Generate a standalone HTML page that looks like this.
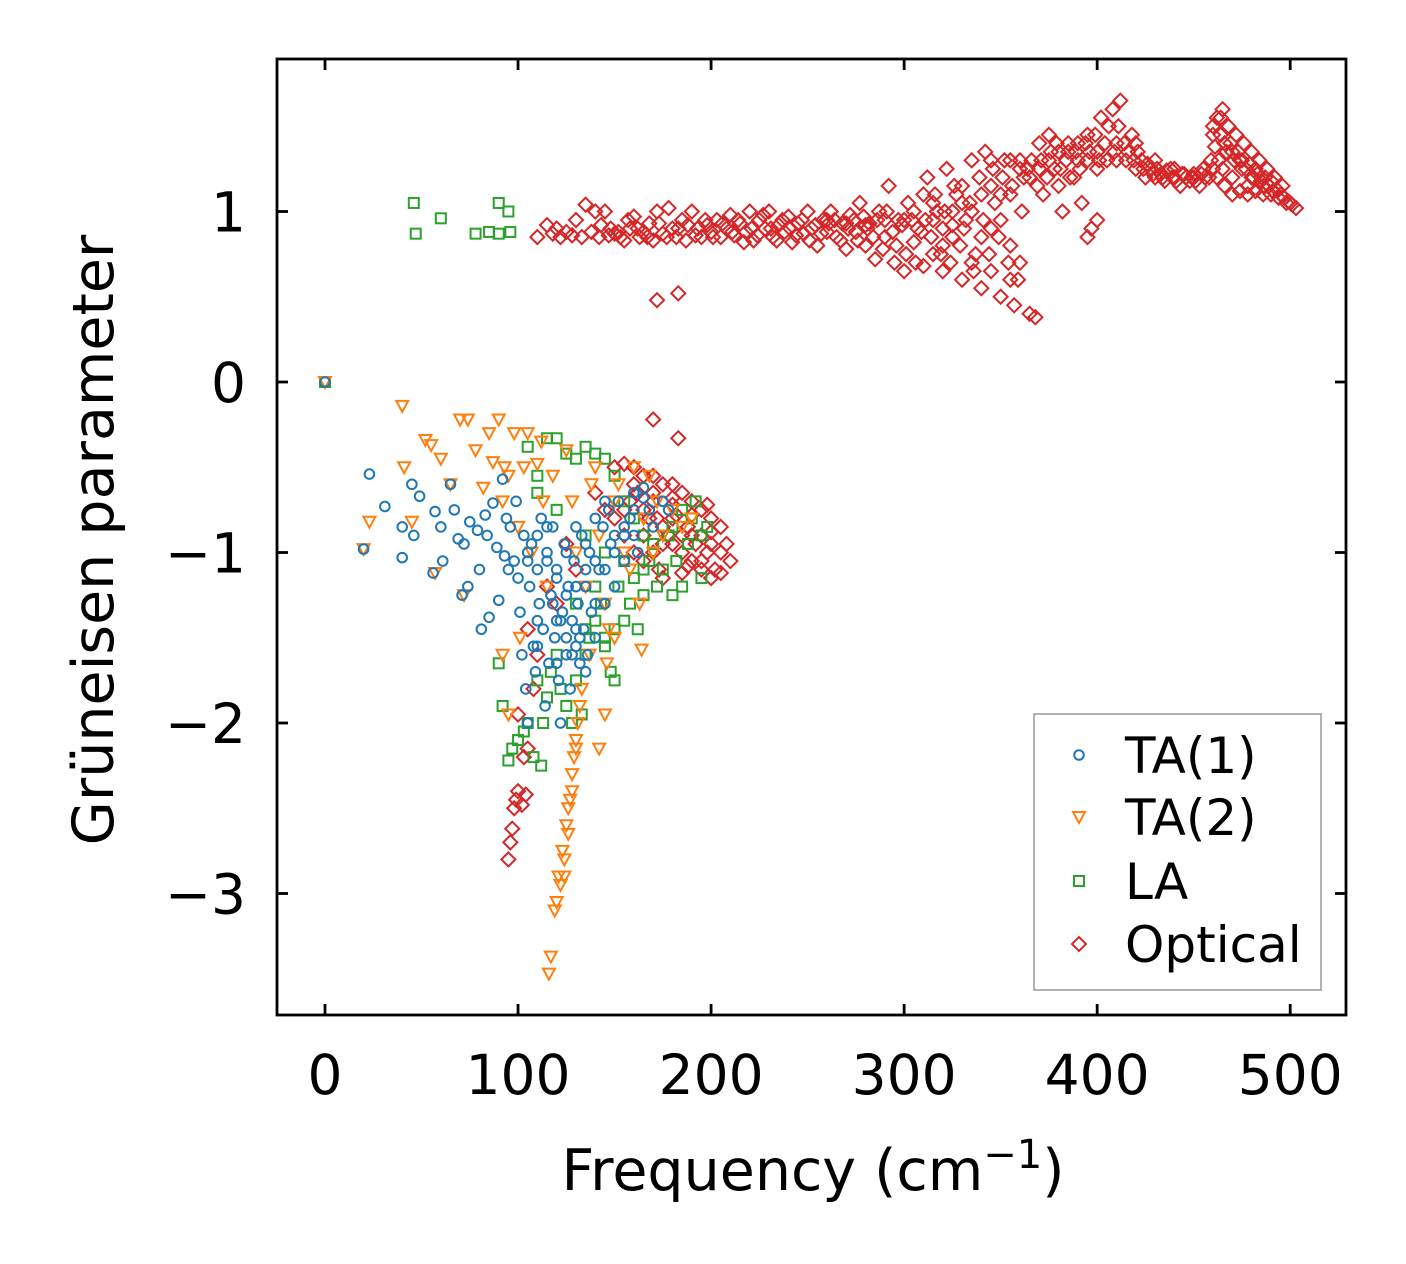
<!DOCTYPE html>
<html><head><meta charset="utf-8">
<style>
html,body{margin:0;padding:0;background:#fff;}
svg{display:block;font-family:"DejaVu Sans","Liberation Sans",sans-serif;}
</style></head>
<body>
<svg id="chart" width="1406" height="1264" viewBox="0 0 1406 1264" xmlns="http://www.w3.org/2000/svg">
<rect x="0" y="0" width="1406" height="1264" fill="#fff"/>
<g id="marks"></g>
<g id="axes"></g>
<text x="813" y="1190" font-size="57" text-anchor="middle">Frequency (cm<tspan dy="-22" font-size="40">−1</tspan><tspan dy="22">)</tspan></text>
<text transform="translate(113,540) rotate(-90)" font-size="57" text-anchor="middle">Grüneisen parameter</text>
<g id="legend">
<rect x="1034" y="714" width="287" height="276" fill="#fff" stroke="#999" stroke-width="1.5"/>
</g>
</svg>
<script>
const xTicks = [0, 100, 200, 300, 400, 500];
const yTicks = [1, 0, -1, -2, -3];
const yTickLabels = ["1", "0", "\u22121", "\u22122", "\u22123"];

const ta1Freq = [0,20,23,31,40,40,45,46,49,56,57,60,61,65,67,69,71,72,74,75,79,80,81,83,84,85,87,89,90,92,93,94,95,96,98,99,100,101,102,103,104,105,106,107,108,109,110,111,112,113,114,115,116,117,118,119,120,121,122,123,124,125,126,127,128,129,130,131,132,133,134,135,136,137,138,140,142,144,145,147,148,150,152,155,158,160,162,165,168,170,175,178,105,115,125,135,128,132,118,122,105,110,115,120,125,130,135,140,145,150,155,160,110,120,130,140,125,135,120,110,130,140,150,145,160,165,155];
const ta1Gamma = [0,-0.98,-0.54,-0.73,-1.03,-0.85,-0.6,-0.9,-0.67,-1.12,-0.76,-0.85,-1.05,-0.6,-0.75,-0.92,-1.25,-0.95,-1.2,-0.82,-0.87,-1.1,-1.45,-0.78,-0.9,-1.38,-0.71,-0.97,-1.28,-0.57,-1.02,-0.8,-1.1,-0.85,-1.05,-0.7,-1.15,-1.35,-1.6,-0.9,-1.8,-2.0,-1.2,-0.95,-1.55,-1.7,-1.1,-1.3,-0.8,-1.45,-1.9,-1.0,-1.65,-1.25,-0.85,-1.5,-1.15,-1.75,-2.0,-1.35,-0.95,-1.6,-1.2,-1.8,-1.4,-1.05,-1.55,-1.3,-1.65,-0.9,-1.45,-1.2,-1.6,-1.0,-1.35,-1.5,-1.1,-0.85,-1.3,-0.75,-0.95,-1.2,-0.7,-0.9,-0.8,-0.65,-1.0,-0.62,-0.75,-0.85,-0.7,-0.75,-1.05,-0.85,-1.25,-1.1,-1.6,-1.5,-1.3,-1.4,-1.0,-0.9,-1.05,-1.1,-1.0,-0.85,-0.95,-1.05,-1.1,-0.9,-0.85,-0.9,-1.4,-1.4,-1.45,-1.3,-1.5,-1.7,-1.65,-1.55,-1.2,-0.8,-1.0,-0.7,-0.75,-0.68,-1.05];

const ta2Freq = [0,20,23,40,41,45,52,55,57,60,65,70,72,74,78,82,85,87,90,92,93,95,98,100,101,103,105,107,110,112,113,115,116,117,118,119,120,121,122,123,124,125,126,127,128,129,130,131,132,133,125,128,130,135,137,138,140,142,145,146,147,150,152,155,158,160,163,164,165,168,170,172,175,180,185,190,95,92,130,142,145,128,126,124,150];
const ta2Gamma = [0,-0.98,-0.82,-0.14,-0.5,-0.82,-0.34,-0.37,-1.12,-0.45,-0.6,-0.22,-1.25,-0.22,-0.4,-0.62,-0.3,-0.47,-0.22,-0.7,-0.5,-0.55,-0.3,-0.85,-1.5,-0.5,-0.3,-1.0,-0.48,-0.35,-0.7,-1.2,-3.47,-3.37,-0.55,-3.1,-3.05,-2.9,-2.95,-2.75,-2.8,-2.6,-2.5,-2.45,-2.3,-2.2,-2.1,-2.0,-1.9,-1.8,-0.4,-0.7,-1.0,-1.2,-1.6,-0.6,-0.5,-0.9,-1.3,-1.65,-1.45,-0.7,-0.6,-1.0,-1.1,-0.5,-1.3,-1.57,-0.8,-0.55,-1.0,-0.7,-0.9,-0.75,-0.85,-0.8,-1.95,-1.6,-2.15,-2.15,-1.95,-2.4,-2.65,-2.9,-1.5];

const laFreq = [0,46,47,60,78,85,90,90,95,96,90,92,95,97,100,103,105,108,110,112,113,115,117,120,122,125,128,130,133,135,137,140,143,145,148,150,152,155,158,160,162,165,168,170,172,175,178,180,182,185,188,190,192,195,198,185,180,195,105,110,115,120,125,130,135,140,145,150,155,160,165,110,120,135,145,155,165,140,130,145,150,135];
const laGamma = [0,1.05,0.87,0.96,0.87,0.88,1.05,0.87,1.0,0.88,-1.65,-1.9,-2.22,-2.15,-2.1,-2.05,-2.0,-2.2,-1.75,-2.25,-2.0,-1.85,-1.7,-1.6,-1.8,-1.9,-2.0,-1.75,-1.95,-1.6,-1.5,-1.4,-1.3,-1.55,-1.7,-1.45,-1.2,-1.4,-1.3,-1.15,-1.45,-1.25,-1.05,-0.95,-1.2,-1.1,-0.9,-0.85,-1.05,-0.75,-0.95,-0.8,-0.7,-0.9,-0.85,-1.2,-1.25,-1.15,-0.38,-0.55,-0.33,-0.33,-0.42,-0.45,-0.38,-0.42,-0.45,-0.55,-0.7,-0.8,-0.9,-0.65,-0.75,-0.9,-1.0,-1.05,-1.1,-1.2,-1.3,-1.5,-1.75,-1.45];

const optFreq = [110,115,118,122,133,135,138,140,142,145,148,150,153,158,160,163,168,170,172,175,178,180,182,185,187,190,193,195,198,200,203,205,208,210,212,215,218,220,222,225,228,230,232,235,238,240,242,245,248,250,252,255,258,260,262,265,268,270,272,275,277,280,282,285,287,290,292,295,297,300,302,305,307,310,312,315,317,320,322,325,327,330,332,335,337,340,342,345,347,350,352,355,357,360,362,365,368,370,372,375,378,380,382,385,388,390,392,395,397,400,402,405,408,410,412,415,418,420,423,425,428,430,433,435,438,440,443,445,448,450,453,455,458,460,462,463,465,466,468,470,472,474,476,478,480,482,484,486,488,490,492,494,496,498,500,503,305,315,325,335,345,355,365,375,385,395,310,320,330,340,350,360,370,380,390,400,410,420,430,440,450,460,470,480,490,475,485,465,395,400,355,345,335,170,183,172,183,95,96,97,98,99,100,102,104,105,103,150,155,160,165,170,175,180,185,190,195,200,205,208,210,205,200,195,190,185,180,175,170,165,160,155,150,158,165,172,180,188,195,200,170,180,190,185,175,198,140,145,125,115,105,108,100,110,120,130,
120,125,128,130,143,147,152,155,157,162,165,167,173,177,183,188,192,197,201,206,211,214,217,221,224,227,231,234,237,241,244,247,251,254,257,261,264,267,271,274,276,279,281,284,286,289,291,294,296,299,301,304,306,309,311,314,316,319,321,324,326,329,331,334,336,339,341,344,346,349,351,354,356,359,361,364,366,369,371,374,376,379,381,384,386,389,391,394,396,399,401,404,406,409,411,414,416,419,421,424,426,429,431,434,436,439,441,444,446,449,451,454,456,459,461,464,467,469,471,473,475,477,479,481,483,485,487,489,491,493,495,497,499,501,462,466,470,474,478,482,486,460,464,300,290,280,270,260,325,315,345,350,340,330,320,355,360,
160,170,180,190,200,205,195,185,175,165,155,162,178,192,202,198,188,182,168,173];
const optGamma = [0.85,0.92,0.87,0.85,0.85,1.04,0.88,1.0,0.85,1.0,0.9,0.87,0.85,0.9,0.97,0.85,0.93,0.83,1.0,0.87,1.02,0.9,0.85,0.95,0.83,1.0,0.9,0.85,0.92,0.88,0.95,0.85,0.9,0.98,0.86,0.93,0.88,1.0,0.83,0.95,0.9,1.0,0.85,0.92,0.88,0.97,0.82,0.93,0.87,1.0,0.9,0.8,0.95,0.88,1.0,0.85,0.93,0.78,0.98,0.88,1.05,0.8,0.93,0.72,1.0,0.85,1.15,0.7,0.95,0.65,1.05,0.82,0.9,0.68,1.2,0.75,1.0,0.65,1.25,0.85,1.1,0.6,0.95,1.3,0.75,0.55,1.35,0.9,1.05,0.5,1.3,0.8,0.45,0.7,1.2,0.4,0.38,1.4,1.1,1.45,1.25,1.35,1.0,1.4,1.2,1.3,1.05,1.45,0.9,1.35,1.55,1.3,1.6,1.4,1.65,1.3,1.45,1.25,1.3,1.2,1.25,1.2,1.22,1.18,1.25,1.2,1.15,1.22,1.18,1.2,1.15,1.25,1.2,1.45,1.55,1.3,1.6,1.4,1.5,1.2,1.45,1.3,1.4,1.15,1.35,1.25,1.3,1.15,1.25,1.1,1.2,1.08,1.15,1.05,1.05,1.02,1.0,0.95,0.92,1.0,1.15,1.1,1.2,1.3,1.35,1.3,1.1,0.8,1.15,0.85,0.95,1.3,1.25,1.15,1.4,1.25,1.3,1.4,1.3,1.25,1.22,1.25,1.35,1.2,1.18,1.25,1.2,1.25,0.85,0.95,0.6,0.65,0.7,-0.22,-0.33,0.48,0.52,-2.8,-2.7,-2.62,-2.5,-2.45,-2.4,-2.48,-2.42,-2.15,-2.2,-0.5,-0.48,-0.5,-0.55,-0.55,-0.6,-0.6,-0.65,-0.7,-0.75,-0.8,-0.85,-0.95,-1.05,-1.12,-1.15,-1.1,-1.05,-1.0,-0.95,-0.95,-1.0,-1.05,-1.0,-0.9,-0.8,-0.7,-0.75,-0.8,-0.8,-0.85,-0.9,-0.95,-0.65,-0.72,-0.9,-1.12,-1.15,-1.0,-0.65,-0.75,-0.95,-1.2,-1.45,-1.8,-1.95,-1.6,-1.3,-1.1,
0.9,0.88,0.86,0.95,0.92,0.86,0.88,0.83,0.95,0.9,0.88,0.85,0.93,0.85,0.9,0.92,0.86,0.95,0.85,0.93,0.88,0.95,0.82,0.9,0.86,0.98,0.9,0.83,0.95,0.9,0.86,0.95,0.83,0.92,0.87,0.93,0.95,0.83,0.9,0.95,0.83,0.97,0.9,0.85,0.95,0.78,1.0,0.88,0.8,0.92,0.75,0.95,0.7,0.88,0.95,0.85,1.1,0.75,1.0,0.7,1.15,0.8,0.9,1.05,0.65,1.2,0.95,0.75,1.25,0.85,1.2,0.7,1.15,0.6,1.0,1.25,1.3,1.15,1.3,1.2,1.35,1.4,1.25,1.3,1.2,1.35,1.25,1.4,1.35,1.45,1.3,1.4,1.5,1.35,1.5,1.4,1.35,1.3,1.35,1.25,1.28,1.22,1.25,1.2,1.24,1.2,1.18,1.22,1.2,1.2,1.18,1.22,1.2,1.3,1.38,1.45,1.35,1.4,1.3,1.35,1.3,1.25,1.28,1.2,1.22,1.18,1.2,1.15,1.12,1.13,1.1,1.08,1.06,1.04,1.2,1.15,1.1,1.12,1.1,1.12,1.1,1.5,1.55,0.95,0.95,0.92,0.93,0.95,1.0,1.05,1.3,1.1,1.1,1.05,0.9,1.3,1.25,
-0.6,-0.7,-0.68,-0.78,-0.88,-1.0,-1.05,-0.9,-0.85,-0.9,-0.75,-0.65,-0.9,-0.95,-1.1,-0.72,-1.08,-0.78,-0.8,-1.1];

const NS = "http://www.w3.org/2000/svg";
const X0 = 277, X1 = 1346, Y0 = 59, Y1 = 1015;
function xScale(v){ return 325 + v * 1.9304; }
function yScale(v){ return 382 - v * 170.5; }
const marks = document.getElementById('marks');
const axes = document.getElementById('axes');
const legend = document.getElementById('legend');

function marker(g, type, cx, cy, color){
  let el;
  if(type === 'circle'){
    el = document.createElementNS(NS,'circle');
    el.setAttribute('cx', cx); el.setAttribute('cy', cy); el.setAttribute('r', 4.8);
  } else if(type === 'tri'){
    el = document.createElementNS(NS,'polygon');
    el.setAttribute('points', (cx-6)+','+(cy-5)+' '+(cx+6)+','+(cy-5)+' '+cx+','+(cy+6));
  } else if(type === 'square'){
    el = document.createElementNS(NS,'rect');
    el.setAttribute('x', cx-5); el.setAttribute('y', cy-5); el.setAttribute('width', 10); el.setAttribute('height', 10);
  } else {
    el = document.createElementNS(NS,'polygon');
    el.setAttribute('points', cx+','+(cy-7)+' '+(cx+7)+','+cy+' '+cx+','+(cy+7)+' '+(cx-7)+','+cy);
  }
  el.setAttribute('fill','none');
  el.setAttribute('stroke', color);
  el.setAttribute('stroke-width', 2);
  g.appendChild(el);
  return el;
}

function series(name, type, color, xs, ys){
  const g = document.createElementNS(NS,'g');
  
  
  for(let i=0;i<xs.length;i++){
    const m = marker(g, type, xScale(xs[i]), yScale(ys[i]), color);
    
    
  }
  marks.appendChild(g);
}
series('optical-series','diamond','#d62728', optFreq, optGamma);
series('la-series','square','#2ca02c', laFreq, laGamma);
series('ta2-series','tri','#ff7f0e', ta2Freq, ta2Gamma);
series('ta1-series','circle','#1f77b4', ta1Freq, ta1Gamma);

const frame = document.createElementNS(NS,'rect');
frame.setAttribute('x', X0); frame.setAttribute('y', Y0);
frame.setAttribute('width', X1-X0); frame.setAttribute('height', Y1-Y0);
frame.setAttribute('fill','none'); frame.setAttribute('stroke','#000'); frame.setAttribute('stroke-width', 2.8);


axes.appendChild(frame);

function line(x1,y1,x2,y2,name){
  const l = document.createElementNS(NS,'line');
  l.setAttribute('x1',x1); l.setAttribute('y1',y1); l.setAttribute('x2',x2); l.setAttribute('y2',y2);
  l.setAttribute('stroke','#000'); l.setAttribute('stroke-width',2.8);
  
  
  axes.appendChild(l);
}
function text(x,y,s,anchor,name,size){
  const t = document.createElementNS(NS,'text');
  t.setAttribute('x',x); t.setAttribute('y',y); t.setAttribute('text-anchor',anchor);
  t.setAttribute('font-size', size || 55);
  t.textContent = s;
  
  
  return t;
}
xTicks.forEach(v=>{
  const x = xScale(v);
  line(x, Y1, x, Y1-11, 'x-tick');
  line(x, Y0, x, Y0+11, 'x-tick-top');
  axes.appendChild(text(x, 1094, String(v), 'middle', 'x-tick-label'));
});
yTicks.forEach((v,i)=>{
  const y = yScale(v);
  line(X0, y, X0+11, y, 'y-tick');
  line(X1, y, X1-11, y, 'y-tick-right');
  axes.appendChild(text(246, y+20, yTickLabels[i], 'end', 'y-tick-label'));
});

const legendLabels = ["TA(1)","TA(2)","LA","Optical"];
const legendTypes = ['circle','tri','square','diamond'];
const legendColors = ['#1f77b4','#ff7f0e','#2ca02c','#d62728'];
const legendY = [755, 817, 881, 944];
legendLabels.forEach((lab,i)=>{
  const g = document.createElementNS(NS,'g');
  
  
  marker(g, legendTypes[i], 1079, legendY[i], legendColors[i]);
  g.appendChild(text(1125, legendY[i]+18, lab, 'start', 'legend-label', 50));
  legend.appendChild(g);
});
</script>
</body></html>
